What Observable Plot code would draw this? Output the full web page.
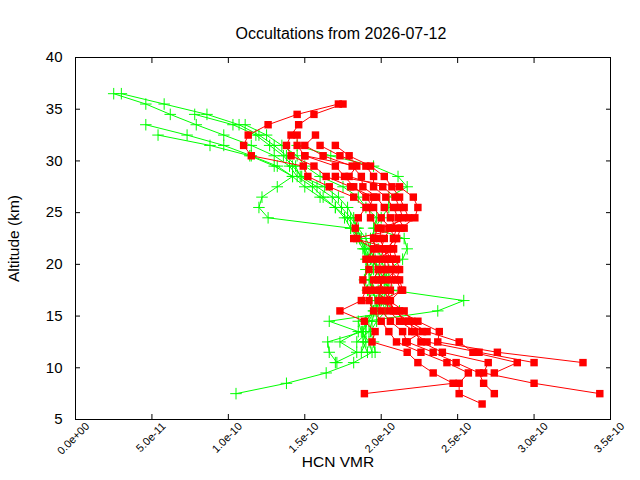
<!DOCTYPE html>
<html>
<head>
<meta charset="utf-8">
<script src="https://cdn.jsdelivr.net/npm/d3@7"></script>
<script src="https://cdn.jsdelivr.net/npm/@observablehq/plot@0.6"></script>
<style>
  html, body { margin: 0; padding: 0; background: #fff; }
  #chart svg { display: block; }
</style>
</head>
<body>
<div id="chart"></div>
<script>
// Altitude grid (km) shared by every profile
const altitudes = [36.5, 35.5, 34.5, 33.5, 32.5, 31.5, 30.5, 29.5, 28.5, 27.5, 26.5, 25.5, 24.5, 23.5, 22.5, 21.5, 20.5, 19.5, 18.5, 17.5, 16.5, 15.5, 14.5, 13.5, 12.5, 11.5, 10.5, 9.5, 8.5, 7.5, 6.5];
const _ = null;
// HCN VMR values in units of 1e-10, one entry per altitude (null = no point)
const red1 = [_, 1.72, 1.45, 1.26, 1.13, 1.10, 1.15, 1.49, 1.52, 1.66, 1.82, 1.90, 1.85, 1.83, 1.84, 1.95, 1.90, 1.92, 1.88, 1.90, 1.87, 1.73, 1.89, 1.96, 1.94, 2.17, 2.24, 2.34, 2.47, 1.89, _];
const red2 = [_, 1.75, 1.56, 1.46, 1.41, 1.38, 1.41, 1.56, 1.64, 1.80, 1.95, 1.92, 1.93, 1.98, 1.95, 1.96, 1.94, 1.98, 1.95, 1.93, 1.92, 1.95, 2.00, 2.05, 2.10, 2.26, 2.43, 2.57, 2.51, 2.51, 2.66];
const red3 = [_, _, _, _, 1.45, 1.45, 1.50, 1.70, 1.76, 1.82, 1.90, 1.95, 2.00, 2.06, 2.02, 2.00, 2.02, 2.03, 2.00, 1.99, 1.98, 2.00, 2.06, 2.14, 2.17, 2.34, 2.49, 2.64, 2.67, 2.74, _];
const red4 = [_, _, _, _, 1.57, 1.50, 1.62, 1.81, 1.87, 1.88, 1.97, 2.02, 2.06, 2.10, 2.08, 2.05, 2.07, 2.08, 2.07, 2.06, 2.03, 2.05, 2.12, 2.22, 2.26, 2.40, 2.70, 2.67, 3.00, 3.43, _];
const red5 = [_, _, _, _, _, 1.60, 1.73, 1.90, 1.95, 1.95, 2.03, 2.08, 2.11, 2.15, 1.82, 2.08, 2.10, 2.12, 2.10, 2.13, 2.06, 2.08, 2.18, 2.30, 2.51, 2.60, 2.89, 2.74, _, _, _];
const red6 = [_, _, _, _, _, 1.70, 1.79, 1.93, 2.02, 2.07, 2.12, 2.15, 2.18, 2.00, 1.99, 2.02, 2.04, 2.05, 2.12, 2.14, 2.00, 2.12, 2.24, 2.38, 2.37, 2.76, 3.32, _, _, _, _];
const red7 = [_, _, _, _, _, _, 1.50, 1.84, 1.79, 2.01, 2.09, 2.12, 2.14, 2.05, 2.10, 2.08, 1.98, 2.00, 1.98, 2.02, 2.05, 2.15, 2.20, 2.20, 2.30, 2.64, 3.00, _, _, _, _];
const red8 = [_, _, _, _, _, _, _, _, 1.70, 2.12, 2.21, 2.24, 2.22, 2.13, 2.10, 2.03, 2.06, 2.10, 2.03, 1.96, 2.04, 2.10, 2.15, 2.27, 2.16, _, _, _, _, _, _];

const green1 = [0.25, 0.46, 0.62, 0.79, 0.97, 1.15, 1.30, 1.40, 1.45, 1.55, 1.62, 1.70, 1.76, 1.80, 1.84, 1.88, 1.90, 1.92, 1.93, 1.95, 1.96, 1.98, 1.85, 1.87, 1.92, 1.94, 1.82, 1.64, 1.38, 1.05, _];
const green2 = [0.30, 0.58, 0.86, 1.07, 1.20, 1.30, 1.38, 1.44, 1.47, 1.58, 1.68, 1.74, 1.80, 1.85, 1.90, 1.93, 1.95, 1.97, 2.00, 2.07, 2.54, 2.37, 1.90, 1.88, 1.65, 1.66, 1.71, _, _, _, _];
const green3 = [_, _, 0.78, 1.03, 1.18, 1.27, 1.36, 1.42, 1.48, 1.63, 1.72, 1.78, 1.82, 1.84, 1.87, 1.90, 1.93, 1.95, 1.92, 1.94, 1.97, 2.12, 1.66, 1.85, 1.73, 1.84, 1.70, _, _, _, _];
const green4 = [_, _, _, 0.46, 0.73, 0.97, 1.15, 1.32, 1.42, 1.50, 1.60, 1.70, 1.78, 1.83, 1.86, 1.89, 1.91, 1.90, 1.89, 1.91, 1.93, 1.95, 1.90, 1.90, 1.88, 1.91, _, _, _, _, _];
const green5 = [_, _, _, _, 0.54, 0.88, 1.14, 1.30, 1.42, 1.32, 1.22, 1.20, 1.26, 1.80, 1.86, 1.92, 1.96, 1.98, 2.03, 2.05, 2.00, 1.95, 1.92, 1.88, 1.90, 1.87, _, _, _, _, _];
const green6 = [_, _, _, 1.11, 1.25, 1.35, 1.45, 1.50, 1.60, 1.75, 1.85, 1.90, 1.97, 1.95, 2.15, 2.17, 2.14, 2.05, 2.02, 1.98, 2.00, 2.03, 1.97, 1.93, 1.95, 1.96, _, _, _, _, _];
const green7 = [_, _, _, _, _, 1.45, 1.67, 1.95, 2.11, 2.17, 2.05, 2.05, 2.00, 1.96, 1.93, 1.98, 2.00, 2.02, 2.05, 2.02, 1.99, 1.96, 1.94, 1.92, 1.84, _, _, _, _, _, _];

const redProfiles = [red1, red2, red3, red4, red5, red6, red7, red8];
const greenProfiles = [green1, green2, green3, green4, green5, green6, green7];

const xTicks = [0, 0.5e-10, 1.0e-10, 1.5e-10, 2.0e-10, 2.5e-10, 3.0e-10, 3.5e-10];
const xTickLabels = ["0.0e+00", "5.0e-11", "1.0e-10", "1.5e-10", "2.0e-10", "2.5e-10", "3.0e-10", "3.5e-10"];
const yTicks = [5, 10, 15, 20, 25, 30, 35, 40];

const titleText = "Occultations from 2026-07-12";
const xLabel = "HCN VMR";
const yLabel = "Altitude (km)";

function toRows(profiles, prefix) {
  const rows = [];
  profiles.forEach((p, k) => {
    p.forEach((v, i) => {
      if (v != null) rows.push({id: prefix + k, alt: altitudes[i], vmr: v * 1e-10});
    });
  });
  return rows;
}
const redRows = toRows(redProfiles, "r");
const greenRows = toRows(greenProfiles, "g");

const GREEN = "#00ff00";
const RED = "#ff0000";

const chart = Plot.plot({
  width: 640,
  height: 480,
  marginLeft: 75,
  marginRight: 30,
  marginTop: 57,
  marginBottom: 61,
  style: {fontFamily: "'Liberation Sans', Arial, sans-serif", background: "#fff", color: "#000"},
  x: {domain: [0, 3.5e-10], ticks: xTicks},
  y: {domain: [5, 40], ticks: yTicks},
  marks: [
    Plot.line(greenRows, {x: "vmr", y: "alt", z: "id", stroke: GREEN, strokeWidth: 1}),
    Plot.dot(greenRows, {x: "vmr", y: "alt", symbol: "plus", r: 3.8, stroke: GREEN, strokeWidth: 1}),
    Plot.line(redRows, {x: "vmr", y: "alt", z: "id", stroke: RED, strokeWidth: 1}),
    Plot.dot(redRows, {x: "vmr", y: "alt", symbol: "square", r: 4.2, fill: RED, stroke: "none"}),
    Plot.frame({stroke: "#000", strokeWidth: 1}),
    Plot.axisX({anchor: "bottom", ticks: xTicks, tickSize: -5, fill: "none", label: null}),
    Plot.axisX({anchor: "top", ticks: xTicks, tickSize: -5, fill: "none", label: null}),
    Plot.axisY({anchor: "left", ticks: yTicks, tickSize: -5, fill: "none", label: null}),
    Plot.axisY({anchor: "right", ticks: yTicks, tickSize: -5, fill: "none", label: null}),
    Plot.axisY({anchor: "left", ticks: yTicks, tickSize: 0, tickPadding: 13, fontSize: 15, label: null}),
    Plot.axisX({anchor: "bottom", ticks: xTicks, tickSize: 0, tickPadding: 5, tickRotate: -45, fontSize: 11, dx: 12, label: null,
      tickFormat: d => xTickLabels[xTicks.findIndex(t => Math.abs(t - d) < 1e-14)]}),
    Plot.text([titleText], {text: d => d, frameAnchor: "top", dy: -30, dx: -2, fontSize: 16, fill: "#000"}),
    Plot.text([xLabel], {text: d => d, frameAnchor: "bottom", dy: 47, dx: -5, fontSize: 15.5, fill: "#000"}),
    Plot.text([yLabel], {text: d => d, frameAnchor: "left", textAnchor: "middle", dx: -61, rotate: -90, fontSize: 15.5, fill: "#000"})
  ]
});
document.getElementById("chart").appendChild(chart);
</script>
</body>
</html>
